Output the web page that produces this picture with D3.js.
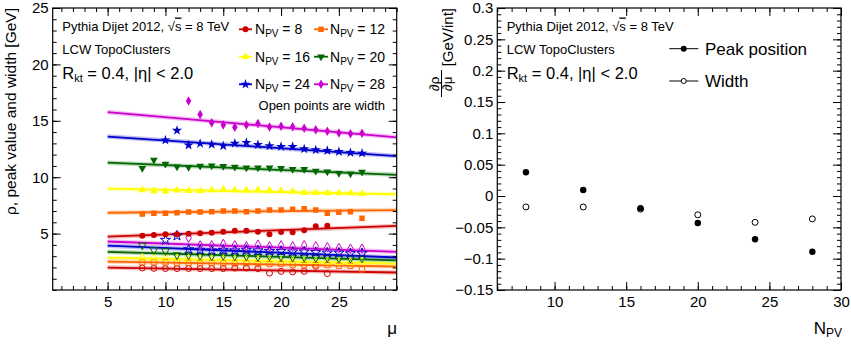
<!DOCTYPE html>
<html><head><meta charset="utf-8">
<script src="https://cdn.jsdelivr.net/npm/d3@7"></script>
<style>
body{margin:0;background:#fff;}
svg{display:block;}
text{font-family:"Liberation Sans",Arial,Helvetica,sans-serif;fill:#000;}
</style></head><body>
<svg id="c" width="851" height="346"></svg>
<script>
// ---------------- DATA ----------------
const npvValues = [8, 12, 16, 20, 24, 28];
const seriesColors = ["#cc0000", "#ff6600", "#ffff00", "#006600", "#0000cc", "#cc00cc"];
const seriesShapes = ["circle", "square", "triUp", "triDown", "star", "diamond"];
const muStart = [8, 8, 8, 8, 10, 12];

// peak position (filled points) vs mu
const peakNpv8  = [4.81, 4.88, 4.94, 4.94, 4.99, 5.03, 5.08, 5.17, 5.26, 5.26, 5.17, 4.94, 5.14, 5.11, 5.29, 5.65, 5.70];
const peakNpv12 = [6.74, 6.80, 6.80, 6.85, 6.91, 6.91, 6.94, 7.00, 7.00, 6.94, 7.00, 7.09, 7.09, 7.15, 7.21, 7.09, 6.80, 6.89, 6.94, 6.36];
const peakNpv16 = [8.87, 8.78, 8.75, 8.84, 8.80, 8.78, 8.87, 8.93, 8.87, 8.84, 8.89, 8.84, 8.80, 8.75, 8.63, 8.63, 8.60, 8.60, 8.60, 8.54];
const peakNpv20 = [10.79, 11.52, 11.17, 10.93, 10.88, 10.99, 11.02, 10.97, 10.90, 10.84, 10.84, 10.84, 10.79, 10.70, 10.70, 10.55, 10.49, 10.35, 10.31, 10.46];
const peakNpv24 = [13.28, 14.14, 12.84, 12.98, 12.90, 12.78, 13.00, 13.07, 12.88, 12.77, 12.71, 12.71, 12.50, 12.41, 12.35, 12.26, 12.17, 12.12];
const peakNpv28 = [16.76, 15.55, 14.82, 14.63, 14.43, 14.63, 14.76, 14.46, 14.51, 14.47, 14.33, 14.21, 14.08, 13.92, 13.86, 13.90];

// width (open points) vs mu
const widthNpv8  = [1.95, 1.92, 1.90, 1.90, 1.90, 1.90, 1.90, 1.90, 1.95, 1.95, 1.90, 1.50, 1.65, 1.60, 1.65, 2.10, 1.45];
const widthNpv12 = [2.45, 2.45, 2.45, 2.40, 2.40, 2.40, 2.40, 2.35, 2.35, 2.35, 2.30, 2.30, 2.30, 2.25, 2.20, 2.20, 2.20, 2.15, 2.15, 1.83];
const widthNpv16 = [2.85, 2.85, 2.80, 2.80, 2.75, 2.75, 2.75, 2.70, 2.70, 2.70, 2.65, 2.65, 2.60, 2.60, 2.55, 2.55, 2.50, 2.45, 2.45, 2.50];
const widthNpv20 = [3.96, 3.55, 3.46, 3.10, 3.10, 3.05, 3.00, 3.05, 3.00, 3.00, 2.95, 3.00, 2.95, 2.90, 2.90, 2.85, 2.85, 2.80, 2.80, 2.80];
const widthNpv24 = [4.43, 4.81, 3.60, 3.55, 3.50, 3.55, 3.50, 3.55, 3.50, 3.45, 3.45, 3.40, 3.40, 3.35, 3.30, 3.30, 3.25, 3.25];
const widthNpv28 = [4.64, 3.95, 3.96, 4.08, 3.96, 3.87, 4.02, 3.87, 3.96, 3.87, 3.96, 3.87, 3.79, 3.72, 3.66, 3.66];

// linear fits: value at mu = 5 and slope d(rho)/d(mu)
const fitMuRange = [5, 30];
const peakFitAt5  = [4.73, 6.85, 8.98, 11.29, 13.60, 15.76];
const widthFitAt5 = [1.99, 2.52, 2.87, 3.38, 3.93, 4.30];
const slopePeak  = [0.038, 0.0096, -0.0196, -0.043, -0.069, -0.089];
const slopeWidth = [-0.0175, -0.0175, -0.021, -0.030, -0.042, -0.0366];

// axes ticks
const leftXTicks = [5, 10, 15, 20, 25];
const leftXTickLabels = ["5", "10", "15", "20", "25"];
const leftYTicks = [5, 10, 15, 20, 25];
const leftYTickLabels = ["5", "10", "15", "20", "25"];
const rightXTicks = [10, 15, 20, 25, 30];
const rightXTickLabels = ["10", "15", "20", "25", "30"];
const rightYTicks = [-0.15, -0.1, -0.05, 0, 0.05, 0.1, 0.15, 0.2, 0.25, 0.3];
const rightYTickLabels = ["\u22120.15", "\u22120.1", "\u22120.05", "0", "0.05", "0.1", "0.15", "0.2", "0.25", "0.3"];

// ---------------- DRAW ----------------
const svg = d3.select("#c");
const peakSets = [peakNpv8, peakNpv12, peakNpv16, peakNpv20, peakNpv24, peakNpv28];
const widthSets = [widthNpv8, widthNpv12, widthNpv16, widthNpv20, widthNpv24, widthNpv28];

const L = {x0: 52.7, x1: 396.7, y0: 8, y1: 290};
const R = {x0: 497.3, x1: 841, y0: 8, y1: 290};

const xL = d3.scaleLinear().domain([0.25, 30]).range([L.x0, L.x1]);
const yL = d3.scaleLinear().domain([0, 25]).range([L.y1, L.y0]);
const xR = d3.scaleLinear().domain([6, 30]).range([R.x0, R.x1]);
const yR = d3.scaleLinear().domain([-0.15, 0.3]).range([R.y1, R.y0]);

function minorValues(scale, step) {
  const [a, b] = scale.domain();
  const lo = Math.min(a, b), hi = Math.max(a, b);
  const out = [];
  for (let v = Math.ceil(lo / step - 1e-9) * step; v <= hi + 1e-9; v += step) out.push(+v.toFixed(6));
  return out;
}

function drawAxes(P, xs, ys, xt, xtl, yt, ytl, xMinor, yMinor) {
  const g = svg.append("g");
  const mk = (axis, tx, ty, size, vals, labels) => {
    const a = axis.tickValues(vals).tickSize(size);
    if (labels) a.tickFormat((d, i) => labels[i]).tickPadding(labels.pad); else a.tickFormat("");
    const gg = g.append("g").attr("transform", `translate(${tx},${ty})`).call(a);
    gg.select(".domain").remove();
    gg.selectAll("line").attr("stroke", "#000").attr("stroke-width", 1);
    gg.selectAll("text").attr("font-size", 15).attr("fill", "#000")
      .style("font-family", '"Liberation Sans",Arial,sans-serif');
    return gg;
  };
  const xl = xtl.slice(); xl.pad = 6;
  const yl = ytl.slice(); yl.pad = 4;
  mk(d3.axisBottom(xs), 0, P.y1, -8, xt, xl);
  mk(d3.axisBottom(xs), 0, P.y1, -4, minorValues(xs, xMinor), null);
  mk(d3.axisTop(xs), 0, P.y0, -8, xt, null);
  mk(d3.axisTop(xs), 0, P.y0, -4, minorValues(xs, xMinor), null);
  mk(d3.axisLeft(ys), P.x0, 0, -8, yt, yl);
  mk(d3.axisLeft(ys), P.x0, 0, -4, minorValues(ys, yMinor), null);
  mk(d3.axisRight(ys), P.x1, 0, -8, yt, null);
  mk(d3.axisRight(ys), P.x1, 0, -4, minorValues(ys, yMinor), null);
  g.append("rect").attr("x", P.x0).attr("y", P.y0).attr("width", P.x1 - P.x0).attr("height", P.y1 - P.y0)
    .attr("fill", "none").attr("stroke", "#000").attr("stroke-width", 1.2);
}

// symbol generator
const symPath = {
  circle: d3.symbol().type(d3.symbolCircle).size(28)(),
  square: d3.symbol().type(d3.symbolSquare).size(30)(),
  triUp: d3.symbol().type(d3.symbolTriangle).size(26)(),
  triDown: d3.symbol().type(d3.symbolTriangle).size(26)(),
  star: d3.symbol().type(d3.symbolStar).size(32)(),
  diamond: d3.symbol().type(d3.symbolDiamond).size(26)()
};
const openSymPath = {
  circle: d3.symbol().type(d3.symbolCircle).size(28)(),
  square: d3.symbol().type(d3.symbolSquare).size(28)(),
  triUp: d3.symbol().type(d3.symbolTriangle).size(26)(),
  triDown: d3.symbol().type(d3.symbolTriangle).size(26)(),
  star: d3.symbol().type(d3.symbolStar).size(32)(),
  diamond: d3.symbol().type(d3.symbolDiamond).size(26)()
};
function marker(sel, shape, x, y, color, open) {
  const p = sel.append("path")
    .attr("d", open ? openSymPath[shape] : symPath[shape])
    .attr("transform", `translate(${x},${y})` + (shape === "triDown" ? " rotate(180)" : ""));
  if (open) p.attr("fill", "none").attr("stroke", color).attr("stroke-width", 1);
  else p.attr("fill", color).attr("stroke", "none");
  return p;
}

// ---- left panel ----
svg.append("defs").append("clipPath").attr("id", "clipL").append("rect")
  .attr("x", L.x0).attr("y", L.y0).attr("width", L.x1 - L.x0).attr("height", L.y1 - L.y0);
const gL = svg.append("g").attr("clip-path", "url(#clipL)");

// fit lines
const lineGen = d3.line().x(d => xL(d[0])).y(d => yL(d[1]));
npvValues.forEach((n, i) => {
  [[peakFitAt5[i], slopePeak[i]], [widthFitAt5[i], slopeWidth[i]]].forEach(([a, s]) => {
    const pts = fitMuRange.map(m => [m, a + s * (m - 5)]);
    gL.append("path").attr("d", lineGen(pts)).attr("stroke", seriesColors[i]).attr("stroke-opacity", 0.25)
      .attr("stroke-width", 4.5).attr("fill", "none");
    gL.append("path").attr("d", lineGen(pts)).attr("stroke", seriesColors[i])
      .attr("stroke-width", 1.8).attr("fill", "none");
  });
});
// open points (width)
npvValues.forEach((n, i) => {
  widthSets[i].forEach((v, k) => marker(gL, seriesShapes[i], xL(muStart[i] + k), yL(v), seriesColors[i], true));
});
// filled points (peak)
npvValues.forEach((n, i) => {
  peakSets[i].forEach((v, k) => marker(gL, seriesShapes[i], xL(muStart[i] + k), yL(v), seriesColors[i], false));
});

drawAxes(L, xL, yL, leftXTicks, leftXTickLabels, leftYTicks, leftYTickLabels, 1, 1);

// ---- right panel ----
const gR = svg.append("g");
npvValues.forEach((n, i) => {
  gR.append("circle").attr("cx", xR(n)).attr("cy", yR(slopeWidth[i])).attr("r", 3)
    .attr("fill", "none").attr("stroke", "#000").attr("stroke-width", 1);
  gR.append("circle").attr("cx", xR(n)).attr("cy", yR(slopePeak[i])).attr("r", 3.2).attr("fill", "#000");
});
drawAxes(R, xR, yR, rightXTicks, rightXTickLabels, rightYTicks, rightYTickLabels, 1, 0.01);

// ---- texts ----
function labelBlock(x) {
  const t1 = svg.append("text").attr("x", x).attr("y", 30.5).attr("font-size", 13);
  t1.append("tspan").text("Pythia Dijet 2012, ");
  t1.append("tspan").text("\u221A");
  t1.append("tspan").text("s").style("text-decoration", "overline");
  t1.append("tspan").text(" = 8 TeV");
  svg.append("text").attr("x", x).attr("y", 54).attr("font-size", 13).text("LCW TopoClusters");
  const t3 = svg.append("text").attr("x", x).attr("y", 79).attr("font-size", 16.5);
  t3.append("tspan").text("R");
  t3.append("tspan").attr("font-size", 11).attr("dy", 3).text("kt");
  t3.append("tspan").attr("dy", -3).text(" = 0.4, |\u03B7| < 2.0");
}
labelBlock(62.3);
labelBlock(506.7);

// left legend
const legendRowsY = [29.3, 56.7, 84.3];
const legendColsX = [[239, 252, 255], [314, 328, 330]];
npvValues.forEach((n, i) => {
  const r = Math.floor(i / 2), c = i % 2;
  const [lx0, lx1, tx] = legendColsX[c];
  const y = legendRowsY[r];
  svg.append("line").attr("x1", lx0).attr("x2", lx1).attr("y1", y).attr("y2", y)
    .attr("stroke", seriesColors[i]).attr("stroke-width", 1.8);
  marker(svg, seriesShapes[i], (lx0 + lx1) / 2, y, seriesColors[i], false);
  const t = svg.append("text").attr("x", tx).attr("y", y + 5).attr("font-size", 14);
  t.append("tspan").text("N");
  t.append("tspan").attr("font-size", 10).attr("dy", 3).text("PV");
  t.append("tspan").attr("dy", -3).text(" = " + n);
});
svg.append("text").attr("x", 385).attr("y", 110).attr("text-anchor", "end").attr("font-size", 13)
  .text("Open points are width");

// right legend
[["Peak position", 48.7, false], ["Width", 81, true]].forEach(([lab, y, open]) => {
  svg.append("line").attr("x1", 669.3).attr("x2", 698.3).attr("y1", y).attr("y2", y)
    .attr("stroke", "#000").attr("stroke-width", 1);
  if (open) svg.append("circle").attr("cx", 683.7).attr("cy", y).attr("r", 2.5).attr("fill", "#fff").attr("stroke", "#000");
  else svg.append("circle").attr("cx", 683.7).attr("cy", y).attr("r", 3).attr("fill", "#000");
  svg.append("text").attr("x", 705).attr("y", y + 6).attr("font-size", 17).text(lab);
});

// axis titles
svg.append("text").attr("transform", "translate(16,8) rotate(-90)").attr("text-anchor", "end")
  .attr("font-size", 15.5).text("\u03C1, peak value and width [GeV]");
svg.append("text").attr("x", 397).attr("y", 334).attr("text-anchor", "end").attr("font-size", 17).text("\u03BC");
const nt = svg.append("text").attr("x", 842).attr("y", 334).attr("text-anchor", "end").attr("font-size", 17);
nt.append("tspan").text("N");
nt.append("tspan").attr("font-size", 12).attr("dy", 3).text("PV");

const ry = svg.append("g").attr("transform", "translate(453,0) rotate(-90)");
ry.append("text").attr("x", -8).attr("y", 0).attr("text-anchor", "end").attr("font-size", 15).text("[GeV/int]");
ry.append("text").attr("x", -83.7).attr("y", -14).attr("text-anchor", "middle").attr("font-size", 13.5).text("\u2202\u03C1");
ry.append("text").attr("x", -83.7).attr("y", -1.5).attr("text-anchor", "middle").attr("font-size", 13.5).text("\u2202\u03BC");
ry.append("line").attr("x1", -97).attr("x2", -70).attr("y1", -11.5).attr("y2", -11.5).attr("stroke", "#000").attr("stroke-width", 1);
</script>
</body></html>
